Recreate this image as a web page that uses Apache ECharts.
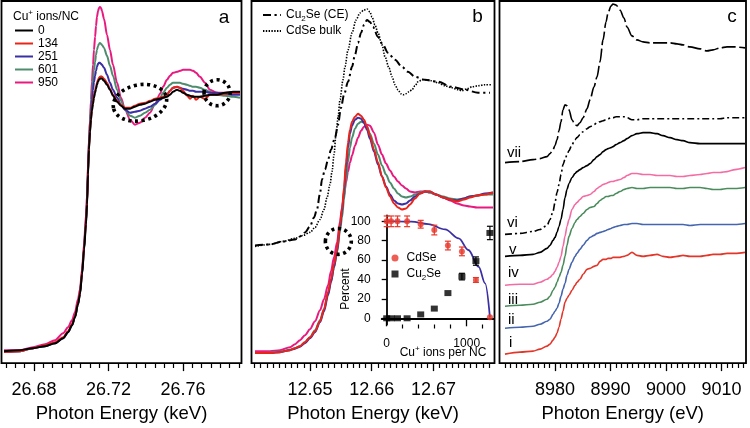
<!DOCTYPE html>
<html><head><meta charset="utf-8">
<script src="https://cdn.jsdelivr.net/npm/echarts@6/dist/echarts.min.js"></script>
<style>html,body{margin:0;padding:0;background:#fff}#c{width:750px;height:428px}</style>
</head><body><div id="c"></div>
<script>
// ---------- Panel a : Cd K-edge (keV) ----------
const energyA = [26.6639,26.6725,26.6795,26.6859,26.6913,26.6956,26.6983,26.7004,26.7020,26.7036,26.7047,26.7058,26.7069,26.7079,26.7085,26.7090,26.7095,26.7101,26.7106,26.7111,26.7117,26.7122,26.7128,26.7133,26.7138,26.7144,26.7149,26.7154,26.7160,26.7165,26.7176,26.7192,26.7208,26.7224,26.7246,26.7267,26.7289,26.7316,26.7342,26.7369,26.7396,26.7423,26.7450,26.7477,26.7493,26.7514,26.7530,26.7546,26.7568,26.7584,26.7600,26.7622,26.7638,26.7654,26.7670,26.7691,26.7718,26.7745,26.7783,26.7826,26.7869,26.7906];
const muA0   = [0.12,0.13,0.15,0.17,0.20,0.25,0.31,0.38,0.46,0.59,0.69,0.89,1.14,1.39,1.59,1.89,2.14,2.32,2.44,2.53,2.60,2.66,2.71,2.75,2.79,2.82,2.84,2.85,2.855,2.85,2.83,2.79,2.74,2.68,2.62,2.58,2.55,2.55,2.57,2.59,2.60,2.62,2.64,2.65,2.66,2.67,2.69,2.72,2.74,2.73,2.71,2.69,2.68,2.67,2.67,2.67,2.68,2.69,2.69,2.71,2.72,2.72];
const muA134 = [0.11,0.12,0.15,0.18,0.21,0.26,0.32,0.39,0.47,0.60,0.71,0.91,1.16,1.42,1.61,1.91,2.16,2.34,2.46,2.55,2.63,2.69,2.73,2.77,2.81,2.84,2.86,2.87,2.875,2.87,2.85,2.81,2.75,2.69,2.63,2.59,2.56,2.56,2.58,2.60,2.61,2.63,2.65,2.66,2.67,2.69,2.73,2.76,2.77,2.76,2.73,2.68,2.65,2.68,2.64,2.67,2.65,2.69,2.69,2.70,2.71,2.71];
const muA251 = [0.11,0.12,0.15,0.17,0.20,0.25,0.31,0.38,0.46,0.59,0.70,0.90,1.15,1.42,1.62,1.92,2.18,2.37,2.52,2.64,2.74,2.82,2.88,2.93,2.97,3.00,3.01,3.01,3.00,2.99,2.96,2.89,2.81,2.74,2.66,2.59,2.54,2.51,2.52,2.53,2.55,2.57,2.60,2.64,2.66,2.69,2.73,2.76,2.77,2.76,2.75,2.74,2.73,2.73,2.72,2.72,2.72,2.71,2.71,2.70,2.69,2.69];
const muA601 = [0.11,0.12,0.15,0.17,0.20,0.25,0.31,0.38,0.46,0.59,0.70,0.90,1.16,1.44,1.64,1.96,2.22,2.42,2.58,2.72,2.84,2.94,3.02,3.09,3.14,3.18,3.20,3.21,3.20,3.19,3.16,3.08,2.98,2.88,2.74,2.63,2.54,2.48,2.46,2.48,2.51,2.54,2.59,2.66,2.71,2.76,2.79,2.81,2.81,2.81,2.80,2.79,2.78,2.77,2.77,2.76,2.74,2.72,2.69,2.68,2.67,2.66];
const muA950 = [0.13,0.13,0.16,0.19,0.23,0.30,0.36,0.43,0.51,0.64,0.74,0.94,1.20,1.49,1.69,1.99,2.24,2.44,2.64,2.82,2.99,3.14,3.27,3.38,3.47,3.53,3.56,3.57,3.56,3.53,3.45,3.29,3.14,2.99,2.81,2.66,2.54,2.44,2.39,2.41,2.46,2.51,2.60,2.70,2.77,2.84,2.88,2.91,2.92,2.93,2.94,2.94,2.94,2.93,2.91,2.87,2.81,2.74,2.71,2.71,2.71,2.71];
const ionLabels = ['0','134','251','601','950'];

// ---------- Panel b : Se K-edge (keV) ----------
const energyB = [12.64109,12.64352,12.64514,12.64676,12.64757,12.64838,12.64919,12.65000,12.65081,12.65162,12.65227,12.65292,12.65340,12.65389,12.65438,12.65486,12.65519,12.65551,12.65583,12.65616,12.65648,12.65681,12.65729,12.65778,12.65827,12.65875,12.65924,12.65972,12.66037,12.66102,12.66167,12.66232,12.66297,12.66361,12.66426,12.66491,12.66556,12.66621,12.66702,12.66783,12.66864,12.66945,12.67042,12.67156,12.67269,12.67382,12.67496,12.67593,12.67707,12.67836,12.67966];
const muB134 = [0.10,0.10,0.11,0.13,0.15,0.17,0.21,0.26,0.32,0.42,0.54,0.71,0.84,0.99,1.14,1.39,1.54,1.76,2.01,2.21,2.34,2.42,2.47,2.50,2.48,2.44,2.37,2.28,2.14,2.01,1.87,1.76,1.67,1.60,1.56,1.54,1.55,1.59,1.65,1.70,1.72,1.72,1.69,1.66,1.64,1.62,1.64,1.66,1.68,1.69,1.71];
const muB251 = [0.10,0.10,0.11,0.13,0.145,0.165,0.20,0.25,0.31,0.41,0.52,0.68,0.81,0.96,1.12,1.36,1.52,1.72,1.96,2.16,2.30,2.38,2.44,2.46,2.45,2.41,2.34,2.25,2.12,1.99,1.87,1.77,1.69,1.63,1.60,1.59,1.60,1.63,1.67,1.70,1.72,1.72,1.69,1.66,1.64,1.63,1.65,1.67,1.68,1.70,1.71];
const muB601 = [0.10,0.105,0.115,0.135,0.15,0.17,0.21,0.26,0.33,0.43,0.54,0.70,0.82,0.96,1.11,1.32,1.46,1.64,1.84,2.02,2.16,2.26,2.35,2.40,2.42,2.41,2.37,2.30,2.20,2.09,1.98,1.89,1.81,1.75,1.70,1.67,1.66,1.67,1.69,1.71,1.72,1.71,1.69,1.67,1.65,1.64,1.65,1.67,1.68,1.69,1.69];
const muB950 = [0.12,0.12,0.13,0.16,0.19,0.23,0.28,0.34,0.42,0.53,0.64,0.78,0.92,1.06,1.21,1.42,1.56,1.68,1.81,1.92,2.01,2.08,2.18,2.26,2.33,2.37,2.39,2.38,2.31,2.19,2.09,2.00,1.93,1.87,1.82,1.78,1.75,1.72,1.71,1.72,1.72,1.71,1.69,1.66,1.63,1.60,1.58,1.57,1.56,1.56,1.56];
const energyCE = [12.64109,12.64352,12.64562,12.64757,12.64838,12.64919,12.65000,12.65065,12.65113,12.65162,12.65194,12.65243,12.65292,12.65340,12.65405,12.65454,12.65502,12.65551,12.65616,12.65681,12.65729,12.65778,12.65827,12.65875,12.65924,12.65972,12.66021,12.66102,12.66183,12.66264,12.66378,12.66491,12.66588,12.66702,12.66864,12.67075,12.67301,12.67512,12.67723,12.67917];
const muCE = [1.18,1.19,1.22,1.24,1.27,1.31,1.37,1.46,1.54,1.70,1.84,1.94,2.04,2.14,2.26,2.39,2.56,2.69,2.82,2.97,3.09,3.21,3.31,3.39,3.44,3.42,3.37,3.27,3.19,3.11,3.04,2.97,2.92,2.87,2.84,2.82,2.77,2.74,2.71,2.71];
const energyBulk = [12.64109,12.64352,12.64562,12.64757,12.64887,12.65000,12.65081,12.65162,12.65227,12.65276,12.65324,12.65357,12.65389,12.65421,12.65454,12.65486,12.65535,12.65567,12.65616,12.65681,12.65746,12.65810,12.65875,12.65924,12.65972,12.66005,12.66053,12.66102,12.66167,12.66216,12.66280,12.66329,12.66378,12.66426,12.66475,12.66507,12.66556,12.66605,12.66653,12.66702,12.66750,12.66815,12.66896,12.66977,12.67075,12.67188,12.67301,12.67399,12.67463,12.67545,12.67626,12.67723,12.67836,12.67950];
const muBulk = [1.17,1.19,1.22,1.25,1.28,1.31,1.36,1.44,1.54,1.66,1.79,1.92,2.09,2.29,2.46,2.64,2.84,2.97,3.14,3.31,3.44,3.51,3.54,3.55,3.52,3.47,3.39,3.31,3.19,3.07,2.96,2.87,2.79,2.74,2.70,2.69,2.70,2.72,2.74,2.78,2.82,2.84,2.84,2.83,2.81,2.78,2.76,2.74,2.73,2.75,2.77,2.78,2.79,2.79];

// ---------- Inset (panel b) ----------
const ionsPerNC = [0,55,135,255,425,595,765,940,1115,1290];
const cdsePct  = [100,100,100,100,97,91,75,69,39.5,1];
const cdseErr  = [5.5,5.5,5.5,5.5,4,5,4.5,4.5,2.5,0];
const cu2sePct = [0,0,0,0,4,10,26,43,59,88];
const cu2seErr = [0,0,0,0,0,0,0,3.4,4.3,6.9];
const fitIons  = [0,150,310,520,730,900,1020,1150,1230,1290];
const fitPct   = [100,99.9,99.6,97.2,91.7,82.5,70.4,53,36,1];

// ---------- Panel c : Cu K-edge (eV) ----------
const energyC = [8970.99,8973.69,8976.04,8977.30,8978.56,8979.10,8979.64,8980.00,8980.36,8980.72,8981.08,8981.44,8981.80,8982.16,8982.52,8983.06,8983.60,8983.96,8984.50,8985.05,8985.77,8986.31,8987.03,8987.57,8988.11,8988.65,8989.19,8989.55,8990.09,8990.45,8990.99,8991.71,8992.43,8992.97,8993.87,8994.77,8995.86,8997.12,8998.38,8999.46,9000.72,9001.98,9003.06,9004.32,9006.13,9007.39,9008.47,9009.73,9010.99,9012.43,9014.23];
const muC_i   = [0.09,0.11,0.12,0.14,0.17,0.19,0.23,0.26,0.30,0.36,0.44,0.52,0.61,0.65,0.68,0.73,0.78,0.81,0.84,0.89,0.94,0.95,0.97,0.98,1.02,1.04,1.04,1.05,1.05,1.06,1.06,1.06,1.07,1.08,1.11,1.08,1.07,1.08,1.09,1.07,1.06,1.07,1.08,1.07,1.07,1.08,1.09,1.09,1.10,1.10,1.11];
const muC_ii  = [0.35,0.36,0.37,0.39,0.42,0.44,0.49,0.52,0.55,0.60,0.67,0.74,0.80,0.88,0.94,1.01,1.07,1.10,1.14,1.18,1.23,1.26,1.28,1.30,1.31,1.32,1.33,1.34,1.35,1.36,1.37,1.38,1.39,1.39,1.40,1.40,1.39,1.39,1.39,1.39,1.39,1.39,1.39,1.38,1.39,1.39,1.39,1.39,1.39,1.39,1.40];
const muC_iii = [0.57,0.58,0.59,0.61,0.64,0.67,0.73,0.76,0.81,0.86,0.91,0.98,1.07,1.18,1.27,1.35,1.41,1.44,1.47,1.50,1.54,1.56,1.57,1.60,1.63,1.65,1.67,1.67,1.68,1.68,1.70,1.72,1.74,1.75,1.76,1.75,1.75,1.76,1.76,1.76,1.76,1.75,1.75,1.76,1.76,1.75,1.74,1.74,1.75,1.75,1.76];
const muC_iv  = [0.78,0.79,0.79,0.81,0.84,0.86,0.89,0.92,0.96,1.01,1.07,1.17,1.27,1.37,1.44,1.54,1.59,1.61,1.64,1.67,1.68,1.69,1.72,1.75,1.77,1.79,1.80,1.81,1.82,1.82,1.83,1.84,1.86,1.88,1.90,1.90,1.89,1.89,1.88,1.88,1.88,1.87,1.87,1.88,1.89,1.90,1.91,1.91,1.92,1.94,1.96];
const muC_v   = [1.07,1.08,1.09,1.11,1.15,1.18,1.23,1.26,1.31,1.37,1.44,1.54,1.66,1.74,1.80,1.86,1.90,1.92,1.94,1.96,1.98,2.00,2.04,2.07,2.09,2.12,2.14,2.15,2.16,2.17,2.19,2.21,2.23,2.25,2.28,2.30,2.31,2.31,2.30,2.28,2.26,2.24,2.23,2.21,2.20,2.20,2.20,2.20,2.20,2.20,2.20];
const muC_vi  = [1.29,1.30,1.32,1.34,1.38,1.44,1.52,1.61,1.71,1.79,1.89,1.99,2.04,2.09,2.13,2.19,2.24,2.26,2.29,2.32,2.35,2.37,2.39,2.41,2.42,2.43,2.44,2.45,2.46,2.46,2.47,2.47,2.47,2.46,2.44,2.44,2.45,2.45,2.45,2.45,2.45,2.45,2.45,2.45,2.45,2.45,2.45,2.45,2.46,2.46,2.46];
const muC_vii = [2.01,2.02,2.04,2.05,2.07,2.10,2.14,2.18,2.24,2.33,2.42,2.54,2.59,2.58,2.54,2.44,2.39,2.38,2.41,2.46,2.55,2.64,2.77,2.87,3.02,3.24,3.42,3.51,3.58,3.60,3.59,3.54,3.46,3.37,3.28,3.24,3.22,3.21,3.21,3.21,3.21,3.20,3.19,3.17,3.15,3.13,3.14,3.16,3.17,3.17,3.16];
const romanLabels = ['i','ii','iii','iv','v','vi','vii'];

// ---------- annotation rings (data units: centre, half-width, half-height, tilt) ----------
const ringsA = [[26.7369, 2.61, 0.0145, 0.18, 0.2],[26.7783, 2.71, 0.0070, 0.13, 0]];
const ringsB = [[12.65459, 1.22, 0.0021, 0.13, 0]];

// ---------- tick labels ----------
const ticksA = [26.68, 26.72, 26.76];
const ticksB = [12.65, 12.66, 12.67];
const ticksC = [8980, 8990, 9000, 9010];
const insetXTicks = [0, 1000];
const insetXMinor = [200, 400, 600, 800, 1200];
const insetYTicks = [0, 20, 40, 60, 80, 100];

const minorA = [], minorB = [], minorC = [];
for (let k = 26665; k <= 26790; k += 5) if (k % 40 !== 0) minorA.push(k / 1000);
for (let k = 12641; k <= 12679; k += 1) if (k % 10 !== 0) minorB.push(k / 1000);
for (let k = 8971; k <= 9014; k += 1) if (k % 10 !== 0) minorC.push(k);

const FONT = '"Liberation Sans", Arial, Helvetica, sans-serif';
const YMAX = 3.63;
const COL = {k:'#000000', r:'#e8251b', b:'#3b2fa6', g:'#4e8c6e', m:'#e8197f'};
const COLC = {i:'#e3362a', ii:'#4566ae', iii:'#4a8c5c', iv:'#f46ca3', v:'#000000'};

function pairs(xs, ys){ return xs.map((x,i)=>[x, ys[i]]); }

function majorAxis(grid, min, max, ticks, dec, name){
  return {type:'value', gridIndex:grid, min, max, position:'bottom',
    axisLine:{show:false}, splitLine:{show:false},
    axisTick:{show:true, inside:false, length:8, customValues:ticks, lineStyle:{color:'#000', width:1.3}},
    axisLabel:{show:true, customValues:ticks, margin:18, fontSize:18, color:'#000', fontFamily:FONT,
      formatter:v=>Number(v).toFixed(dec)},
    name, nameLocation:'middle', nameGap:39,
    nameTextStyle:{fontSize:18.5, color:'#000', fontFamily:FONT}};
}
// minor ticks: a second axis placed on the "top" slot, shifted down onto the bottom edge, ticks pointing down
function minorAxis(grid, min, max, ticks, h){
  return {type:'value', gridIndex:grid, min, max, position:'top', offset:-h,
    axisLine:{show:false}, splitLine:{show:false}, axisLabel:{show:false},
    axisTick:{show:true, inside:true, length:4, customValues:ticks, lineStyle:{color:'#000', width:1.2}}};
}
function hiddenY(grid){ return {type:'value', gridIndex:grid, min:0, max:YMAX, show:false}; }

function lineSeries(name, xi, yi, xs, ys, color, width, dash, smooth){
  return {type:'line', name, xAxisIndex:xi, yAxisIndex:yi, data:pairs(xs, ys),
    symbol:'none', showSymbol:false, smooth: smooth==null?0.3:smooth, smoothMonotone:'x',
    itemStyle:{color}, lineStyle:{color, width, type: dash || 'solid'}, silent:true, z:3};
}
function ringSeries(xi, yi, rings){
  return {type:'custom', xAxisIndex:xi, yAxisIndex:yi, data:rings, silent:true, z:6,
    renderItem:(p, api)=>{
      const c = api.coord([api.value(0), api.value(1)]);
      const s = api.size([api.value(2), api.value(3)]);
      return {type:'ellipse', x:c[0], y:c[1], rotation:api.value(4),
        shape:{cx:0, cy:0, rx:s[0], ry:s[1]},
        style:{fill:null, stroke:'#000', lineWidth:3.6, lineDash:[3,3.6]}};
    }};
}
function errSeries(xs, ys, es, color){
  return {type:'custom', xAxisIndex:6, yAxisIndex:3, silent:true, z:4,
    data: xs.map((x,i)=>[x, ys[i], es[i]]),
    renderItem:(p, api)=>{
      const x=api.value(0), y=api.value(1), e=api.value(2);
      if (!e) return {type:'group', children:[]};
      const t=api.coord([x,y+e]), b=api.coord([x,y-e]);
      const st={stroke:color, lineWidth:1.2};
      return {type:'group', children:[
        {type:'line', shape:{x1:t[0],y1:t[1],x2:b[0],y2:b[1]}, style:st},
        {type:'line', shape:{x1:t[0]-3,y1:t[1],x2:t[0]+3,y2:t[1]}, style:st},
        {type:'line', shape:{x1:b[0]-3,y1:b[1],x2:b[0]+3,y2:b[1]}, style:st}]};
    }};
}

const rich = {
  n:{fontSize:12, fontFamily:FONT, color:'#000', lineHeight:16},
  sup:{fontSize:8, fontFamily:FONT, color:'#000', lineHeight:8, verticalAlign:'top'},
  sub:{fontSize:8, fontFamily:FONT, color:'#000', lineHeight:8, verticalAlign:'bottom'}
};
function fmtName(n){
  if (n.indexOf('Cu2Se') === 0) return '{n|Cu}{sub|2}{n|' + n.slice(3) + '}';
  return '{n|' + n + '}';
}

function txt(text, x, y, size, align, extra){
  return Object.assign({type:'text', x, y, z:100, silent:true,
    style:{text, fill:'#000', fontSize:size, fontFamily:FONT,
      align:align||'center', verticalAlign:'middle', textAlign:align||'center', textVerticalAlign:'middle', rich}}, extra||{});
}

const romanPos = [[509,343],[508,320],[508,300],[508,273],[509,249.5],[507,223],[507,153]];
// legend marker hidden so that only the line sample is shown
const lineOnly = {opacity:0, color:'rgba(0,0,0,0)', borderWidth:0};

const option = {
  animation:false,
  backgroundColor:'#ffffff',
  grid:[
    {left:1.5, top:1, width:240, height:363, show:true, borderColor:'#000', borderWidth:1.8},
    {left:251.5, top:1, width:243, height:363, show:true, borderColor:'#000', borderWidth:1.8},
    {left:499.5, top:1, width:246.5, height:363, show:true, borderColor:'#000', borderWidth:1.8},
    {left:381.7, top:215.5, width:112.3, height:109, show:false}
  ],
  xAxis:[
    majorAxis(0, 26.66255, 26.79141, ticksA, 2, 'Photon Energy (keV)'),
    minorAxis(0, 26.66255, 26.79141, minorA, 363),
    majorAxis(1, 12.64052, 12.67990, ticksB, 2, 'Photon Energy (keV)'),
    minorAxis(1, 12.64052, 12.67990, minorB, 363),
    majorAxis(2, 8970.0, 9014.41, ticksC, 0, 'Photon Energy (eV)'),
    minorAxis(2, 8970.0, 9014.41, minorC, 363),
    {type:'value', gridIndex:3, min:-62.5, max:1341, position:'bottom',
      axisLine:{show:true, lineStyle:{color:'#000', width:1.8}}, splitLine:{show:false},
      axisTick:{show:true, length:8, customValues:insetXTicks, lineStyle:{color:'#000', width:1.3}},
      axisLabel:{show:true, customValues:insetXTicks, margin:13, fontSize:12, color:'#000', fontFamily:FONT, formatter:v=>String(Math.round(v))}},
    minorAxis(3, -62.5, 1341, insetXMinor, 109)
  ],
  yAxis:[ hiddenY(0), hiddenY(1), hiddenY(2),
    {type:'value', gridIndex:3, min:-6.4, max:106, position:'left',
      axisLine:{show:true, lineStyle:{color:'#000', width:1.8}}, splitLine:{show:false},
      axisTick:{show:true, length:5, customValues:insetYTicks, lineStyle:{color:'#000', width:1.3}},
      axisLabel:{show:true, customValues:insetYTicks, margin:11, fontSize:12, color:'#000', fontFamily:FONT, formatter:v=>String(Math.round(v))}}
  ],
  legend:[
    {data:ionLabels, orient:'vertical', left:14, top:24.5, padding:0, itemWidth:18, itemHeight:10, itemGap:1,
      itemStyle:lineOnly, selectedMode:false, textStyle:{fontSize:12, fontFamily:FONT, color:'#000', lineHeight:12}},
    {data:['Cu2Se (CE)','CdSe bulk'], orient:'vertical', left:262, top:7, padding:0, itemWidth:18, itemHeight:10, itemGap:0,
      itemStyle:lineOnly, selectedMode:false, formatter:fmtName, textStyle:{rich, lineHeight:14}},
    {data:['CdSe','Cu2Se'], orient:'vertical', left:391.5, top:250, padding:0, itemWidth:7, itemHeight:7, itemGap:0,
      selectedMode:false, formatter:fmtName, textStyle:{rich, lineHeight:13, padding:[0,0,0,3]}}
  ],
  series:[
    // panel a
    lineSeries('950', 0, 0, energyA, muA950, COL.m, 2),
    lineSeries('601', 0, 0, energyA, muA601, COL.g, 2),
    lineSeries('251', 0, 0, energyA, muA251, COL.b, 2),
    lineSeries('134', 0, 0, energyA, muA134, COL.r, 2),
    lineSeries('0',   0, 0, energyA, muA0,   COL.k, 2),
    ringSeries(0, 0, ringsA),
    // panel b
    lineSeries('CdSe bulk', 2, 1, energyBulk, muBulk, '#000', 1.6, [1.4,1.4]),
    lineSeries('Cu2Se (CE)', 2, 1, energyCE, muCE, '#000', 2, [8,3.5,2.2,3.5]),
    lineSeries('b950', 2, 1, energyB, muB950, COL.m, 2),
    lineSeries('b601', 2, 1, energyB, muB601, COL.g, 2),
    lineSeries('b251', 2, 1, energyB, muB251, COL.b, 2),
    lineSeries('b134', 2, 1, energyB, muB134, COL.r, 2),
    ringSeries(2, 1, ringsB),
    // inset
    lineSeries('fit', 6, 3, fitIons, fitPct, '#3b2fa6', 1.8, null, 0.35),
    errSeries(ionsPerNC, cdsePct, cdseErr, '#e8372a'),
    errSeries(ionsPerNC, cu2sePct, cu2seErr, '#000'),
    {type:'scatter', name:'CdSe', xAxisIndex:6, yAxisIndex:3, data:pairs(ionsPerNC, cdsePct), symbol:'circle', symbolSize:6,
      itemStyle:{color:'#e8372a'}, silent:true, z:5},
    {type:'scatter', name:'Cu2Se', xAxisIndex:6, yAxisIndex:3, data:pairs(ionsPerNC, cu2sePct), symbol:'rect', symbolSize:[7,6],
      itemStyle:{color:'#000'}, silent:true, z:5},
    // panel c
    lineSeries('i',   4, 2, energyC, muC_i,   COLC.i, 1.6),
    lineSeries('ii',  4, 2, energyC, muC_ii,  COLC.ii, 1.6),
    lineSeries('iii', 4, 2, energyC, muC_iii, COLC.iii, 1.6),
    lineSeries('iv',  4, 2, energyC, muC_iv,  COLC.iv, 1.6),
    lineSeries('v',   4, 2, energyC, muC_v,   COLC.v, 1.6),
    lineSeries('vi',  4, 2, energyC, muC_vi,  '#000', 1.6, [7,3,2,3]),
    lineSeries('vii', 4, 2, energyC, muC_vii, '#000', 1.6, [14,3.5])
  ],
  graphic:[
    txt('a', 224, 18, 19),
    txt('b', 477.5, 17, 19),
    txt('c', 732, 16.5, 19),
    txt('{n|Cu}{sup|+}{n| ions/NC}', 13, 17, 12, 'left'),
    txt('{n|Percent}', 346, 289, 12, 'center', {rotation:Math.PI/2}),
    txt('{n|Cu}{sup|+}{n| ions per NC}', 443, 353, 12, 'center')
  ].concat(romanLabels.map((r,i)=>txt(r, romanPos[i][0], romanPos[i][1], 15, 'left')))
};

const chart = echarts.init(document.getElementById('c'), null, {renderer:'canvas', width:750, height:428});
chart.setOption(option);
</script>
</body></html>
